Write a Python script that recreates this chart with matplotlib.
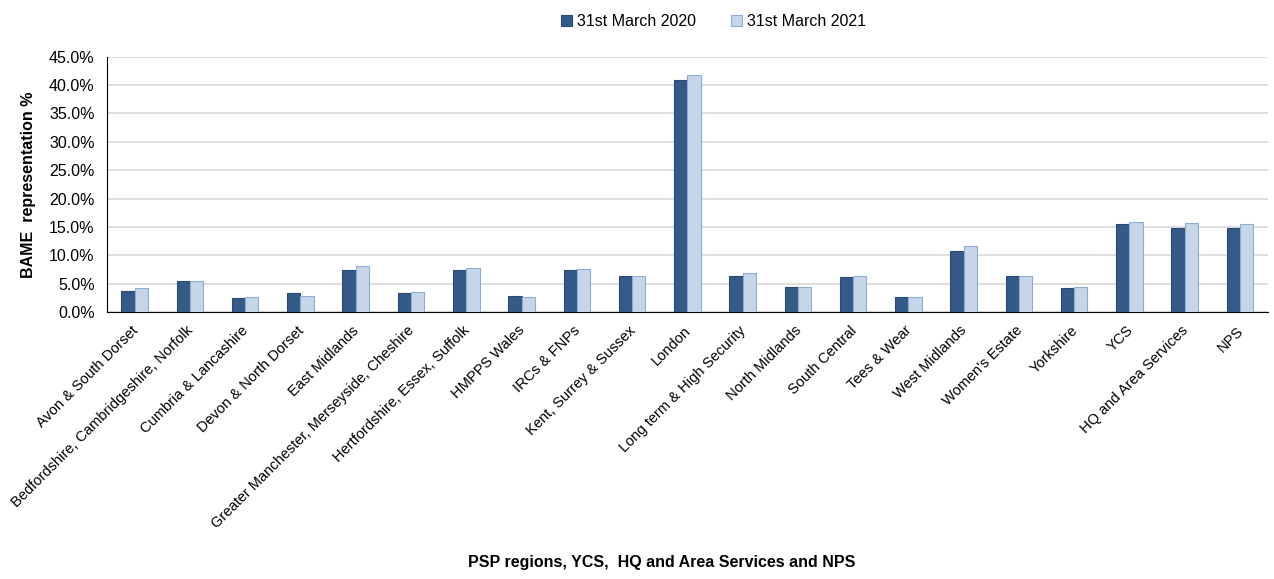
import numpy as np
import matplotlib.pyplot as plt
from matplotlib.ticker import PercentFormatter

plt.rcParams['font.family'] = ['Liberation Sans', 'DejaVu Sans']

regions = ['Avon & South Dorset', 'Bedfordshire, Cambridgeshire, Norfolk',
           'Cumbria & Lancashire', 'Devon & North Dorset', 'East Midlands',
           'Greater Manchester, Merseyside, Cheshire',
           'Hertfordshire, Essex, Suffolk', 'HMPPS Wales', 'IRCs & FNPs',
           'Kent, Surrey & Sussex', 'London', 'Long term & High Security',
           'North Midlands', 'South Central', 'Tees & Wear', 'West Midlands',
           "Women's Estate", 'Yorkshire', 'YCS', 'HQ and Area Services', 'NPS']
mar_2020 = [3.8, 5.4, 2.5, 3.4, 7.4, 3.4, 7.4, 2.9, 7.4, 6.3, 40.9,
            6.4, 4.4, 6.2, 2.7, 10.8, 6.4, 4.2, 15.6, 14.9, 14.9]
mar_2021 = [4.2, 5.4, 2.7, 2.9, 8.2, 3.6, 7.8, 2.7, 7.6, 6.3, 41.8,
            6.8, 4.4, 6.4, 2.6, 11.6, 6.4, 4.4, 15.9, 15.7, 15.5]

fig = plt.figure(figsize=(12.74, 5.79), dpi=100)
ax = fig.add_axes([0.084, 0.461, 0.911, 0.441])

x = np.arange(len(regions))
w = 0.24
ax.bar(x - w / 2, np.array(mar_2020) / 100, w, color='#365A87',
       edgecolor='#2B4A72', linewidth=0.8, label='31st March 2020', zorder=3)
ax.bar(x + w / 2, np.array(mar_2021) / 100, w, color='#C6D5E8',
       edgecolor='#8CAED6', linewidth=0.8, label='31st March 2021', zorder=3)

ax.set_xlim(-0.5, len(regions) - 0.5)
ax.set_ylim(0, 0.45)
ax.set_yticks(np.arange(0, 0.451, 0.05))
ax.yaxis.set_major_formatter(PercentFormatter(1.0, decimals=1))
ax.grid(axis='y', color='#D9D9D9', linewidth=1.2, zorder=0)
ax.set_xticks(x)
ax.set_xticklabels(regions, rotation=45, ha='right', va='center_baseline',
                   rotation_mode='anchor', fontsize=10.5)
ax.tick_params(axis='y', labelsize=11.5, length=0, pad=9)
ax.tick_params(axis='x', length=0, pad=11)
for s in ['top', 'right']:
    ax.spines[s].set_visible(False)
ax.spines['left'].set_color('black')
ax.spines['bottom'].set_color('black')

ax.set_ylabel('BAME  representation %', fontsize=11.5, fontweight='bold',
              labelpad=9)
fig.text(0.519, 0.015, 'PSP regions, YCS,  HQ and Area Services and NPS',
         ha='center', va='bottom', fontsize=11.5, fontweight='bold')

fig.legend(loc='upper center', bbox_to_anchor=(0.56, 1.0), ncol=2,
           frameon=False, fontsize=11.5, handlelength=0.7, handleheight=0.7,
           handletextpad=0.3, columnspacing=2.2)

fig.savefig('out.png', dpi=100)
